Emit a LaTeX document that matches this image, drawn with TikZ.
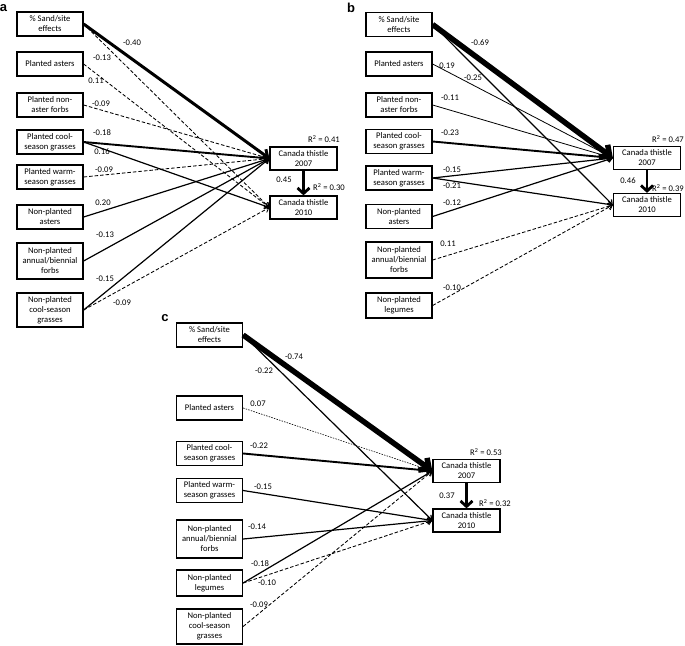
\documentclass[tikz,border=0pt]{standalone}
\usepackage{fontspec}
\setmainfont{Carlito}
\newfontfamily\panelfont{Liberation Sans}
\usetikzlibrary{arrows.meta}
\begin{document}
\begin{tikzpicture}[x=1pt,y=-1pt,
  box/.style={draw, line width=1.25pt, align=center, minimum width=66pt, minimum height=24pt, inner sep=1pt, font=\fontsize{8.6}{10}\selectfont},
  tbox/.style={box, minimum width=67pt, minimum height=23pt},
  lbl/.style={font=\fontsize{8.6}{10}\selectfont, inner sep=0pt},
  plab/.style={font=\panelfont\bfseries\fontsize{13}{13}\selectfont, inner sep=0pt},
  tip/.style={-{Straight Barb[length=4pt,width=6pt]}},
  thn/.style={tip, line width=0.8pt},
  sol/.style={tip, line width=1.2pt},
  solb/.style={tip, line width=1.9pt},
  dsh/.style={tip, line width=0.85pt, dash pattern=on 3.5pt off 2pt},
  dtt/.style={tip, line width=0.6pt, dash pattern=on 1.5pt off 1.2pt},
  thk/.style={line width=3pt, -{Straight Barb[length=6pt,width=11pt]}},
  vthk/.style={line width=5.5pt, -{Straight Barb[length=8pt,width=15pt]}},
  down/.style={line width=2.8pt, -{Straight Barb[length=5.5pt,width=12pt]}}
]
\useasboundingbox (0,0) rectangle (685,645);

% ---------------- panel a ----------------
\node[plab] (pa) at (3.5,8) {a};
\node[box] (aS)  at (50,24)  {\% Sand/site\\effects};
\node[box] (aPA) at (50,64)  {Planted asters};
\node[box] (aPN) at (50,105) {Planted non-\\aster forbs};
\node[box] (aPC) at (50,142) {Planted cool-\\season grasses};
\node[box] (aPW) at (50,177) {Planted warm-\\season grasses};
\node[box] (aNA) at (50,217) {Non-planted\\asters};
\node[box, minimum height=36pt] (aNF) at (50,261) {Non-planted\\annual/biennial\\forbs};
\node[box, minimum height=34pt] (aNC) at (50,310) {Non-planted\\cool-season\\grasses};
\node[tbox] (a07) at (303.5,158.5) {Canada thistle\\2007};
\node[tbox] (a10) at (303.5,207.5) {Canada thistle\\2010};

\draw[dsh] (aS.east) -- (a10.west);
\draw[dsh] (aPA.east) -- (a10.west);
\draw[dsh] (aPN.east) -- (a07.west);
\draw[solb] (aPC.east) -- (a07.west);
\draw[sol] (aPC.east) -- (a10.west);
\draw[dsh] (aPW.east) -- (a07.west);
\draw[sol] (aNA.east) -- (a07.west);
\draw[sol] (aNF.east) -- (a07.west);
\draw[sol] (aNC.east) -- (a07.west);
\draw[dsh] (aNC.east) -- (a10.west);
\draw[thk] (aS.east) -- (a07.west);
\draw[down] (a07.south) -- (a10.north);

\node[lbl] (la1) at (132,43) {-0.40};
\node[lbl] (la2) at (102,58) {-0.13};
\node[lbl] (la3) at (96,81) {0.11};
\node[lbl] (la4) at (101,104) {-0.09};
\node[lbl] (la5) at (102,133) {-0.18};
\node[lbl] (la6) at (102,152) {0.16};
\node[lbl] (la7) at (104,170) {-0.09};
\node[lbl] (la8) at (103,203) {0.20};
\node[lbl] (la9) at (105,235) {-0.13};
\node[lbl] (la10) at (105,279) {-0.15};
\node[lbl] (la11) at (122,303) {-0.09};
\node[lbl] (la12) at (284,180) {0.45};
\node[lbl] (laR1) at (324,139) {R\textsuperscript{2} = 0.41};
\node[lbl] (laR2) at (329,187) {R\textsuperscript{2} = 0.30};

% ---------------- panel b ----------------
\node[plab] (pb) at (351,8) {b};
\node[box] (bS)  at (399,24.5) {\% Sand/site\\effects};
\node[box] (bPA) at (399,64)   {Planted asters};
\node[box] (bPN) at (399,105)  {Planted non-\\aster forbs};
\node[box] (bPC) at (399,141.5) {Planted cool-\\season grasses};
\node[box] (bPW) at (399,178)  {Planted warm-\\season grasses};
\node[box] (bNA) at (399,216.5) {Non-planted\\asters};
\node[box, minimum height=36pt] (bNF) at (399,260) {Non-planted\\annual/biennial\\forbs};
\node[box, minimum height=25pt] (bNL) at (399,305.5) {Non-planted\\legumes};
\node[tbox] (b07) at (647,158) {Canada thistle\\2007};
\node[tbox] (b10) at (647,205) {Canada thistle\\2010};

\draw[sol] (bS.east) -- (b10.west);
\draw[thn] (bPA.east) -- (b07.west);
\draw[thn] (bPN.east) -- (b07.west);
\draw[solb] (bPC.east) -- (b07.west);
\draw[sol] (bPW.east) -- (b07.west);
\draw[sol] (bPW.east) -- (b10.west);
\draw[sol] (bNA.east) -- (b07.west);
\draw[dsh] (bNF.east) -- (b10.west);
\draw[dsh] (bNL.east) -- (b10.west);
\draw[vthk] (bS.east) -- (b07.west);
\draw[down] (b07.south) -- (b10.north);

\node[lbl] (lb1) at (480,43) {-0.69};
\node[lbl] (lb2) at (473,78) {-0.25};
\node[lbl] (lb3) at (447,66) {0.19};
\node[lbl] (lb4) at (450,98) {-0.11};
\node[lbl] (lb5) at (450,133) {-0.23};
\node[lbl] (lb6) at (452,170) {-0.15};
\node[lbl] (lb7) at (452,186) {-0.21};
\node[lbl] (lb8) at (452,203) {-0.12};
\node[lbl] (lb9) at (448,244) {0.11};
\node[lbl] (lb10) at (452,288) {-0.10};
\node[lbl] (lb11) at (628,181) {0.46};
\node[lbl] (lbR1) at (668,139) {R\textsuperscript{2} = 0.47};
\node[lbl] (lbR2) at (668,188) {R\textsuperscript{2} = 0.39};

% ---------------- panel c ----------------
\node[plab] (pc) at (165,318) {c};
\node[box] (cS)  at (209.5,335)   {\% Sand/site\\effects};
\node[box] (cPA) at (209.5,408)   {Planted asters};
\node[box] (cPC) at (209.5,453.5) {Planted cool-\\season grasses};
\node[box] (cPW) at (209.5,490.5) {Planted warm-\\season grasses};
\node[box, minimum height=38pt] (cNF) at (209.5,539) {Non-planted\\annual/biennial\\forbs};
\node[box, minimum height=26pt] (cNL) at (209.5,583) {Non-planted\\legumes};
\node[box, minimum height=35pt] (cNC) at (209.5,626.5) {Non-planted\\cool-season\\grasses};
\node[tbox] (c07) at (466.5,471) {Canada thistle\\2007};
\node[tbox] (c10) at (466.5,520.5) {Canada thistle\\2010};

\draw[sol] (cS.east) -- (c10.west);
\draw[dtt] (cPA.east) -- (c07.west);
\draw[solb] (cPC.east) -- (c07.west);
\draw[sol] (cPW.east) -- (c10.west);
\draw[sol] (cNF.east) -- (c10.west);
\draw[sol] (cNL.east) -- (c07.west);
\draw[dsh] (cNL.east) -- (c10.west);
\draw[dsh] (cNC.east) -- (c07.west);
\draw[vthk] (cS.east) -- (c07.west);
\draw[down] (c07.south) -- (c10.north);

\node[lbl] (lc1) at (294,357) {-0.74};
\node[lbl] (lc2) at (264,371) {-0.22};
\node[lbl] (lc3) at (258,404) {0.07};
\node[lbl] (lc4) at (259,446) {-0.22};
\node[lbl] (lc5) at (263,487) {-0.15};
\node[lbl] (lc6) at (257,527) {-0.14};
\node[lbl] (lc7) at (260,564) {-0.18};
\node[lbl] (lc8) at (267,583) {-0.10};
\node[lbl] (lc9) at (259,605) {-0.09};
\node[lbl] (lc10) at (447,496) {0.37};
\node[lbl] (lcR1) at (486,452) {R\textsuperscript{2} = 0.53};
\node[lbl] (lcR2) at (495,503) {R\textsuperscript{2} = 0.32};
\end{tikzpicture}
\end{document}
